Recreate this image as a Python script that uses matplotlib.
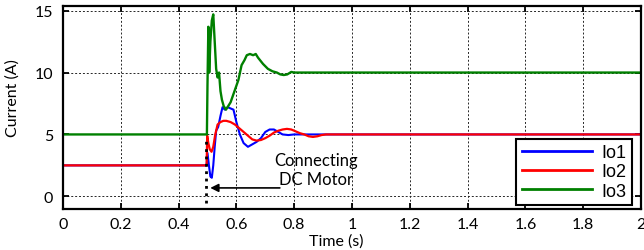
from matplotlib import pyplot as plt

# datos (tiempo en s, corriente en A)
t_io1 = [0, 0.497, 0.500, 0.505, 0.510, 0.515, 0.520, 0.525, 0.530, 0.537, 0.545, 0.552,
         0.560, 0.570, 0.580, 0.590, 0.600, 0.612, 0.625, 0.640, 0.655, 0.670, 0.685,
         0.700, 0.715, 0.730, 0.745, 0.760, 0.780, 0.800, 2.0]
io1 = [2.5, 2.5, 3.5, 2.5, 1.6, 1.5, 2.5, 4.0, 5.3, 5.6, 6.5, 7.2,
       7.0, 7.2, 7.1, 7.0, 6.0, 5.0, 4.3, 4.0, 4.2, 4.4, 4.7,
       5.2, 5.4, 5.4, 5.2, 5.0, 4.95, 5.0, 5.0]

t_io2 = [0, 0.497, 0.499, 0.503, 0.508, 0.514, 0.520, 0.527, 0.535, 0.545, 0.555, 0.565,
         0.580, 0.595, 0.610, 0.625, 0.640, 0.655, 0.670, 0.685, 0.700, 0.715, 0.730,
         0.745, 0.760, 0.775, 0.790, 0.805, 0.820, 0.835, 0.850, 0.865, 0.880, 0.895,
         0.910, 2.0]
io2 = [2.5, 2.5, 4.9, 4.3, 3.8, 3.6, 4.0, 5.0, 5.8, 6.0, 6.1, 6.1,
       6.0, 5.8, 5.5, 5.2, 4.9, 4.6, 4.5, 4.55, 4.7, 4.9, 5.15,
       5.3, 5.4, 5.45, 5.4, 5.25, 5.1, 5.0, 4.85, 4.8, 4.85, 4.95,
       5.0, 5.0]

t_io3 = [0, 0.498, 0.500, 0.503, 0.506, 0.510, 0.515, 0.520, 0.525, 0.530, 0.535, 0.540,
         0.545, 0.550, 0.556, 0.564, 0.572, 0.580, 0.589, 0.598, 0.607, 0.618, 0.628,
         0.636, 0.647, 0.658, 0.667, 0.675, 0.692, 0.709, 0.725, 0.740, 0.752, 0.764,
         0.776, 0.790, 0.800, 2.0]
io3 = [5.0, 5.0, 9.0, 13.7, 10.0, 12.5, 14.2, 14.7, 12.5, 10.3, 9.6, 10.0,
       8.5, 7.8, 7.3, 7.0, 7.3, 7.6, 8.2, 8.8, 9.4, 10.6, 11.0,
       11.4, 11.5, 11.4, 11.5, 11.2, 10.7, 10.3, 10.1, 10.0, 9.85, 9.8,
       9.85, 10.05, 10.0, 10.0]

xticks = [0, 0.2, 0.4, 0.6, 0.8, 1, 1.2, 1.4, 1.6, 1.8, 2]
xticklabels = ['0', '0.2', '0.4', '0.6', '0.8', '1', '1.2', '1.4', '1.6', '1.8', '2']
yticks = [0, 5, 10, 15]

plt.rcParams['font.family'] = ['Lato', 'DejaVu Sans']

fig = plt.figure(figsize=(6.44, 2.51), dpi=100)
ax = fig.add_axes([0.0978, 0.1645, 0.8975, 0.8088])

ax.plot(t_io1, io1, color=(0, 0, 1), lw=1.5, label='Io1')
ax.plot(t_io2, io2, color=(1, 0, 0), lw=1.6, label='Io2')
ax.plot(t_io3, io3, color=(0, 0.5, 0), lw=1.7, label='Io3')

# linea de conexion del motor
ax.plot([0.495, 0.495], [-0.5, 4.8], color='k', lw=2, ls=':', zorder=4)
ax.annotate('', xy=(0.50, 0.68), xytext=(0.76, 0.68),
            arrowprops=dict(arrowstyle='-|>', color='k', lw=1.2, mutation_scale=12))
ax.text(0.874, 2.15, 'Connecting\nDC Motor', ha='center', va='center',
        fontsize=12, linespacing=1.2)

ax.set_xlim(0, 2)
ax.set_ylim(-1, 15.4)
ax.set_xticks(xticks)
ax.set_xticklabels(xticklabels)
ax.set_yticks(yticks)
ax.grid(True, color='0.15', ls=(0, (2, 2)), lw=0.7)
ax.tick_params(direction='in', top=True, right=True, length=4, width=1.3, labelsize=11.5)
ax.tick_params(axis='x', pad=6)
ax.tick_params(axis='y', pad=7)
for s in ax.spines.values():
    s.set_linewidth(1.6)

ax.set_xlabel('Time (s)', fontsize=11.5)
ax.set_ylabel('Current (A)', fontsize=11.5)
ax.xaxis.set_label_coords(0.472, -0.159)
ax.yaxis.set_label_coords(-0.087, 0.548)
ax.xaxis.label.set_va('center')
ax.yaxis.label.set_va('center')

leg = ax.legend(loc='lower right', bbox_to_anchor=(0.984, 0.018), fancybox=False,
                edgecolor='k', framealpha=1, handlelength=3.9, handletextpad=0.5,
                labelspacing=0.12, borderpad=0.3, borderaxespad=0,
                prop={'family': 'Liberation Sans', 'size': 13})
leg.get_frame().set_linewidth(1.5)
for l in leg.get_lines():
    l.set_linewidth(2)

fig.savefig('out.png', dpi=100)
